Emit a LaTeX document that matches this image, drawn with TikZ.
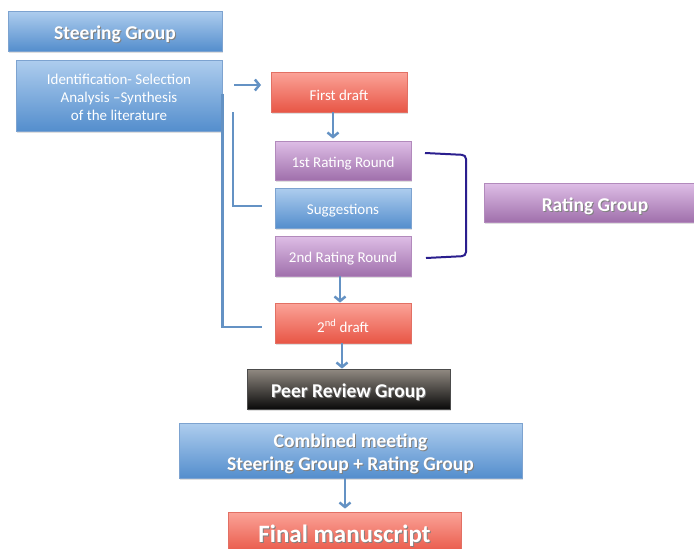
\documentclass[tikz,border=0pt]{standalone}
\usepackage{fontspec}
\setmainfont{Carlito}
\usetikzlibrary{arrows.meta,shadows,calc}
\definecolor{bluetop}{RGB}{174,205,238}
\definecolor{bluebot}{RGB}{84,142,205}
\definecolor{blueedge}{RGB}{125,163,208}
\definecolor{redtop}{RGB}{251,163,152}
\definecolor{redbot}{RGB}{232,86,70}
\definecolor{rededge}{RGB}{226,112,100}
\definecolor{purtop}{RGB}{222,190,230}
\definecolor{purbot}{RGB}{160,112,172}
\definecolor{puredge}{RGB}{178,138,188}
\definecolor{greytop}{RGB}{145,138,130}
\definecolor{greybot}{RGB}{10,10,10}
\definecolor{arrowblue}{RGB}{100,146,196}
\definecolor{bracketblue}{RGB}{42,30,142}
\newcommand\shtxt[1]{\makebox[0pt][l]{\hspace{1pt}\raisebox{-1pt}{\color{black!50}#1}}#1}
\newcommand\dn[2]{\raisebox{-#1pt}[\height][\depth]{#2}}
\tikzset{
  box/.style={rectangle, draw, line width=0.8pt, text=white, inner sep=0pt,
    drop shadow={shadow xshift=0.5pt, shadow yshift=-2pt, opacity=0.25}},
  bluebox/.style={box, top color=bluetop, bottom color=bluebot, draw=blueedge},
  redbox/.style={box, top color=redtop, bottom color=redbot, draw=rededge},
  purbox/.style={box, top color=purtop, bottom color=purbot, draw=puredge},
  greybox/.style={box, top color=greytop, bottom color=greybot, draw=black!70},
  regular/.style={font=\fontsize{15}{18}\selectfont},
  boldtxt/.style={font=\fontsize{19.5}{23}\selectfont\bfseries},
  bigtxt/.style={font=\fontsize{25}{30}\selectfont\bfseries},
  arr/.style={draw=arrowblue, line width=2.5pt, -{Straight Barb[length=4.5pt,width=11pt]}},
  lline/.style={draw=arrowblue, line width=2.5pt},
  bracket/.style={draw=bracketblue, line width=2pt, rounded corners=4pt},
}
\begin{document}
\begin{tikzpicture}[x=1pt,y=-1pt]
\clip (0,0) rectangle (694,549);
\fill[white] (0,0) rectangle (694,549);
\node[bluebox, boldtxt, minimum width=214pt, minimum height=40pt] (steer) at (115,31) {\dn{4}{\shtxt{Steering Group}}};
\node[bluebox, regular, minimum width=206pt, minimum height=71pt] (ident) at (119,95.5) {\dn{3}{\begin{tabular}{@{}c@{}}Identification- Selection\\Analysis --Synthesis\\of the literature\end{tabular}}};
\node[redbox, regular, minimum width=136pt, minimum height=40pt] (fd) at (339,92) {\dn{3}{First draft}};
\node[purbox, regular, minimum width=136pt, minimum height=39pt] (r1) at (343,160.5) {\dn{3}{1st Rating Round}};
\node[bluebox, regular, minimum width=136pt, minimum height=40pt] (sug) at (343,208) {\dn{3}{Suggestions}};
\node[purbox, regular, minimum width=136pt, minimum height=40pt] (r2) at (343,256) {\dn{3}{2nd Rating Round}};
\node[redbox, regular, minimum width=136pt, minimum height=40pt] (d2) at (343,323) {\dn{3}{2\textsuperscript{nd} draft}};
\node[greybox, boldtxt, minimum width=203pt, minimum height=40pt] (peer) at (348.5,389) {\dn{4}{\shtxt{Peer Review Group}}};
\node[bluebox, boldtxt, minimum width=343pt, minimum height=55pt] (comb) at (350.5,450.5) {\dn{4}{\begin{tabular}{@{}c@{}}\shtxt{Combined meeting}\\\shtxt{Steering Group + Rating Group}\end{tabular}}};
\node[redbox, bigtxt, minimum width=233pt, minimum height=42pt] (final) at (344.5,533) {\dn{3}{\shtxt{Final manuscript}}};
\node[purbox, boldtxt, minimum width=222pt, minimum height=39pt] (rg) at (595,202.5) {\dn{4}{\shtxt{Rating Group}}};
% coordinates
\coordinate (a1s) at (234,85);
\coordinate (a1e) at (261,85);
\coordinate (l1s) at (233,112);
\coordinate (l1e) at (262,206);
\coordinate (l2e) at (262,327);
\coordinate (b1) at (425,153);
\coordinate (b2) at (466,155);
\coordinate (b3) at (466,256);
\coordinate (b4) at (426,258);
% arrows
\draw[arr] (a1s) -- (a1e);
\draw[arr] ([xshift=-6pt]fd.south) -- ([xshift=-6pt,yshift=2pt]fd.south |- r1.north);
\draw[arr] ([xshift=-3pt]r2.south) -- ([xshift=-3pt]r2.south |- d2.north);
\draw[arr] ([xshift=-1pt]d2.south) -- ([xshift=-1pt]d2.south |- peer.north);
\draw[arr] ([xshift=-5.5pt]comb.south) -- ([xshift=-5.5pt,yshift=3pt]comb.south |- final.north);
% L-lines
\draw[lline] (l1s) |- (l1e);
\draw[lline] ([yshift=2pt]ident.east) |- (l2e);
% bracket
\draw[bracket] (b1) -- (b2) -- (b3) -- (b4);
\end{tikzpicture}
\end{document}
